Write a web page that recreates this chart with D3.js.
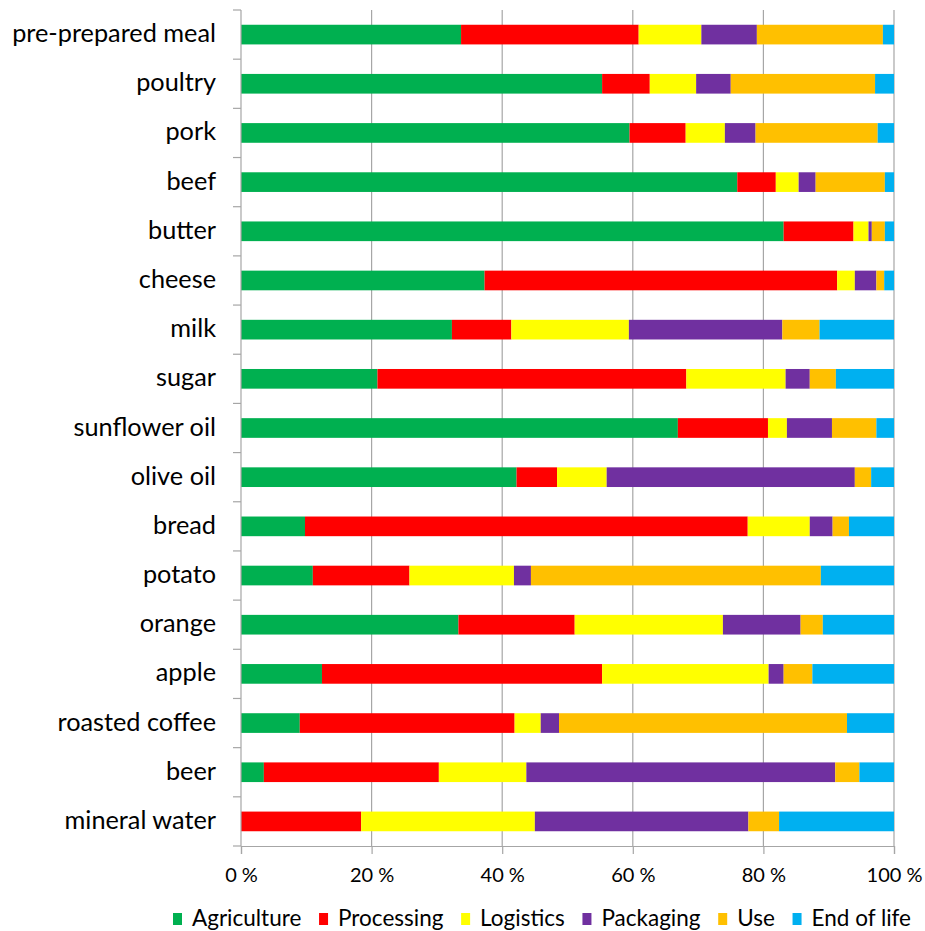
<!DOCTYPE html>
<html>
<head>
<meta charset="utf-8">
<script src="https://cdn.jsdelivr.net/npm/d3@7"></script>
<style>
  html, body { margin: 0; padding: 0; background: #fff; }
  svg { display: block; }
  text { font-family: Lato, "Open Sans", sans-serif; fill: #000; }
</style>
</head>
<body>
<svg id="chart" width="925" height="931"></svg>
<script>
// ---- data (percent shares) ----
const categories = ["pre-prepared meal","poultry","pork","beef","butter","cheese","milk","sugar",
  "sunflower oil","olive oil","bread","potato","orange","apple","roasted coffee","beer","mineral water"];
const seriesNames = ["Agriculture","Processing","Logistics","Packaging","Use","End of life"];
const agriculture = [33.7,55.3,59.5,76.0,83.1,37.3,32.3,20.9,66.9,42.2, 9.8,11.0,33.3,12.4, 9.0, 3.5, 0.0];
const processing  = [27.2, 7.3, 8.6, 5.9,10.7,54.0, 9.1,47.3,13.8, 6.2,67.8,14.8,17.8,42.9,32.9,26.8,18.4];
const logistics   = [ 9.6, 7.1, 6.0, 3.5, 2.3, 2.7,18.0,15.2, 2.9, 7.6, 9.5,16.0,22.7,25.5, 4.0,13.4,26.6];
const packaging   = [ 8.5, 5.3, 4.7, 2.6, 0.5, 3.3,23.5, 3.7, 6.9,38.0, 3.5, 2.6,11.9, 2.3, 2.8,47.3,32.7];
const use         = [19.3,22.1,18.7,10.6, 2.0, 1.2, 5.7, 4.0, 6.8, 2.5, 2.5,44.4, 3.4, 4.4,44.1, 3.7, 4.7];
const endOfLife   = [ 1.7, 2.9, 2.5, 1.4, 1.4, 1.5,11.4, 8.9, 2.7, 3.5, 6.9,11.2,10.9,12.5, 7.2, 5.3,17.6];
const colors = ["#00B050","#FF0000","#FFFF00","#7030A0","#FFC000","#00B0F0"];
const xTicks = [0,20,40,60,80,100];

(function draw() {
const seriesValues = [agriculture, processing, logistics, packaging, use, endOfLife];
const keys = seriesNames;
const table = categories.map((c, i) => {
  const row = {category: c};
  keys.forEach((k, j) => row[k] = seriesValues[j][i]);
  return row;
});

const svg = d3.select("#chart");
const mLeft = 241, mRight = 894, mTop = 10, mBottom = 846;

const x = d3.scaleLinear().domain([0, 100]).range([mLeft, mRight]);
const y = d3.scaleBand().domain(categories).range([mTop, mBottom]).paddingInner(0.6).paddingOuter(0.3);
const color = d3.scaleOrdinal().domain(keys).range(colors);

// gridlines
svg.append("g").selectAll("line").data(xTicks.filter(d => d > 0)).join("line")
  .attr("x1", d => x(d)).attr("x2", d => x(d))
  .attr("y1", mTop).attr("y2", mBottom)
  .attr("stroke", "#a6a6a6").attr("stroke-width", 1.2);

// bars
const stack = d3.stack().keys(keys)(table);
svg.append("g").selectAll("g").data(stack).join("g")
  .attr("fill", d => color(d.key))
  .selectAll("rect").data(d => d).join("rect")
  .attr("x", d => x(d[0]))
  .attr("width", d => Math.max(0, x(d[1]) - x(d[0])))
  .attr("y", d => y(d.data.category))
  .attr("height", y.bandwidth());

// left axis line + ticks at band boundaries
const step = y.step();
const boundaries = categories.map(c => y(c) - y.paddingOuter() * step).concat([mBottom]);
const ya = svg.append("g");
ya.append("line").attr("x1", mLeft).attr("x2", mLeft).attr("y1", mTop).attr("y2", mBottom)
  .attr("stroke", "#a6a6a6").attr("stroke-width", 1.2);
ya.selectAll("line.tk").data(boundaries).join("line").attr("class", "tk")
  .attr("x1", mLeft - 8).attr("x2", mLeft).attr("y1", d => d).attr("y2", d => d)
  .attr("stroke", "#a6a6a6").attr("stroke-width", 1.2);

// category labels
const catLabels = svg.append("g").selectAll("text").data(categories).join("text")
  .attr("x", mLeft - 25)
  .attr("y", d => y(d) + y.bandwidth() / 2 + 7.5)
  .attr("text-anchor", "end")
  .attr("font-size", 22)
  .text(d => d);
const n = catLabels.nodes().find(t => t.textContent === "pre-prepared meal");
const w = n.getComputedTextLength();
catLabels.attr("font-size", 22 * 204 / w);

// bottom axis
const xa = svg.append("g").attr("transform", `translate(0,${mBottom})`)
  .call(d3.axisBottom(x).tickValues(xTicks).tickSize(8).tickPadding(14).tickFormat(d => d + " %"));
xa.select(".domain").attr("stroke", "#a6a6a6").attr("stroke-width", 1.2);
xa.selectAll(".tick line").attr("stroke", "#a6a6a6").attr("stroke-width", 1.2);
xa.selectAll(".tick text").attr("font-size", 20).attr("font-family", "Lato, sans-serif").attr("fill", "#000");

// legend: items flowed from x=173, spread so the last ends near x=911
const legend = svg.append("g");
const ly = 926, startX = 173, endX = 911, sq = 9, gapText = 19;
const items = keys.map((k, i) => {
  const g = legend.append("g");
  g.append("rect").attr("y", ly - 13).attr("width", sq).attr("height", 12).attr("fill", colors[i]);
  const t = g.append("text").attr("x", gapText).attr("y", ly).attr("font-size", 22.5).text(k);
  return {g, w: gapText + t.node().getComputedTextLength()};
});
const totalW = d3.sum(items, d => d.w);
const gap = (endX - startX - totalW) / (items.length - 1);
let lx = startX;
items.forEach(it => { it.g.attr("transform", `translate(${lx},0)`); lx += it.w + gap; });
})();
</script>
</body>
</html>
